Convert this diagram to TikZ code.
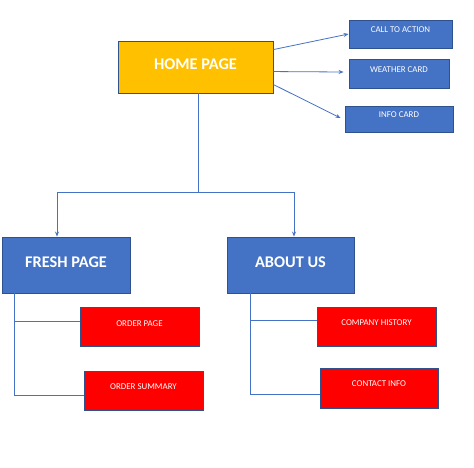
\documentclass[tikz,border=0pt]{standalone}
\usepackage{fontspec}
\setmainfont{Carlito}
\usetikzlibrary{arrows.meta,calc}
\definecolor{hyellow}{HTML}{FFC000}
\definecolor{hblue}{HTML}{4472C4}
\definecolor{hred}{HTML}{FF0000}
\definecolor{hborder}{HTML}{2F528F}
\tikzset{
  box/.style={draw=hborder, line width=0.9pt, inner sep=0pt},
  bigtxt/.style={font=\bfseries\fontsize{16.3}{19}\selectfont, text=white},
  smalltxt/.style={font=\fontsize{8.9}{11}\selectfont, text=white},
  conn/.style={draw=hblue, line width=0.8pt},
  arr/.style={conn, -{Stealth[length=5pt,width=4pt]}},
}
\begin{document}
\begin{tikzpicture}[x=1pt,y=-1pt]
\useasboundingbox[fill=white] (0,0) rectangle (474,467);
% boxes
\node[box, fill=hyellow, minimum width=155pt, minimum height=52pt,
  label={[bigtxt, yshift=3pt]center:HOME PAGE}] (home) at (195.5,67) {};
\node[box, fill=hblue, minimum width=103pt, minimum height=28pt,
  label={[smalltxt, yshift=4pt]center:CALL TO ACTION}] (cta) at (400.5,34) {};
\node[box, fill=hblue, minimum width=100pt, minimum height=29pt,
  label={[smalltxt, yshift=3.5pt]center:WEATHER CARD}] (weather) at (399,73.5) {};
\node[box, fill=hblue, minimum width=108pt, minimum height=26pt,
  label={[smalltxt, yshift=4pt]center:INFO CARD}] (info) at (399,119) {};
\node[box, fill=hblue, minimum width=128pt, minimum height=56pt,
  label={[bigtxt, yshift=3pt]center:FRESH PAGE}] (fresh) at (66,265) {};
\node[box, fill=hblue, minimum width=127pt, minimum height=56pt,
  label={[bigtxt, yshift=3pt]center:ABOUT US}] (about) at (290.5,265) {};
\node[box, fill=hred, minimum width=119pt, minimum height=39pt,
  label={[smalltxt, yshift=2.5pt]center:ORDER PAGE}] (orderpage) at (139.5,326.5) {};
\node[box, fill=hred, minimum width=119pt, minimum height=39pt,
  label={[smalltxt, yshift=3.5pt]center:ORDER SUMMARY}] (ordersum) at (143.5,390.5) {};
\node[box, fill=hred, minimum width=119pt, minimum height=39pt,
  label={[smalltxt, yshift=3.5pt]center:COMPANY HISTORY}] (history) at (376.5,326.5) {};
\node[box, fill=hred, minimum width=118pt, minimum height=40pt,
  label={[smalltxt, yshift=4pt]center:CONTACT INFO}] (contact) at (379,388) {};
% arrows from home page
\draw[arr] ($(home.north east)+(0,9)$) -- (cta.west);
\draw[arr] ($(home.north east)+(0,31)$) -- ($(weather.west)+(-5,-1.5)$);
\draw[arr] ($(home.north east)+(0,44)$) -- ($(info.west)+(-4,-1)$);
% tree
\coordinate (j) at (198,192);
\coordinate (jl) at (57,192);
\coordinate (jr) at (294,192);
\draw[conn] ($(home.south)+(2.5,0)$) -- (j);
\draw[conn] (jl) -- (jr);
\draw[arr] (jl) -- (jl |- fresh.north);
\draw[arr] (jr) -- (jr |- about.north);
% fresh page children
\coordinate (fs) at (14,293);
\coordinate (f1) at (14,321);
\coordinate (f2) at (14,395);
\draw[conn] (fs) -- (f2);
\draw[conn] (f1) -- (f1 -| orderpage.west);
\draw[conn] (f2) -- (f2 -| ordersum.west);
% about us children
\coordinate (as) at (250,293);
\coordinate (a1) at (250,320);
\coordinate (a2) at (250,394);
\draw[conn] (as) -- (a2);
\draw[conn] (a1) -- (a1 -| history.west);
\draw[conn] (a2) -- (a2 -| contact.west);
\end{tikzpicture}
\end{document}
